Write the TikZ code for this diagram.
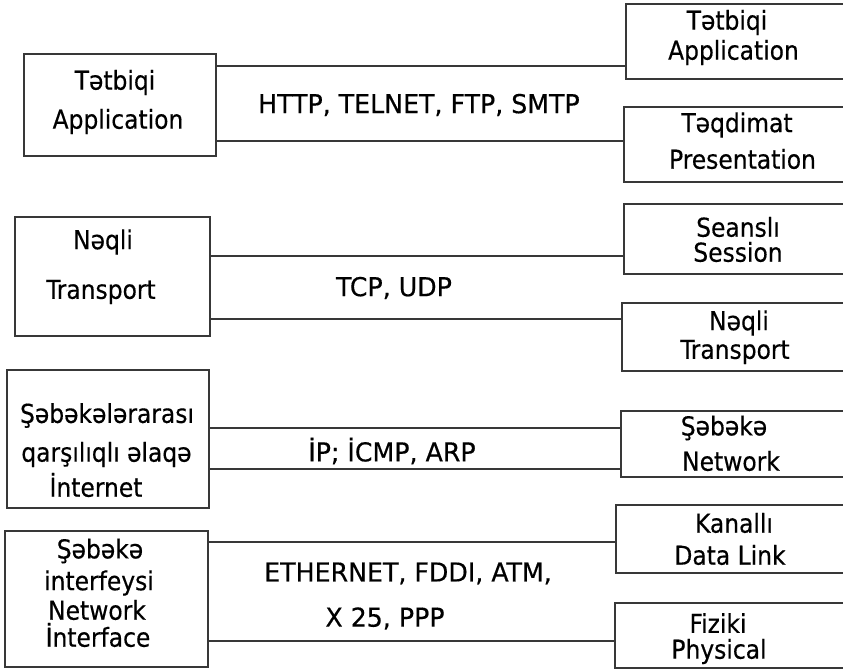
\documentclass[tikz,border=0pt]{standalone}
\usepackage{fontspec}
\setmainfont{DejaVu Sans Condensed}[FakeBold=0.4]
\usetikzlibrary{fit}

\tikzset{
  layerbox/.style={draw=black!78, line width=1.8pt, inner sep=0pt, rectangle},
  link/.style={draw=black!78, line width=1.8pt},
  lbl/.style={inner sep=0pt, anchor=center, font=\fontsize{26}{30}\selectfont},
  proto/.style={lbl, xscale=1.08, transform shape},
}

\begin{document}
\begin{tikzpicture}[x=1pt, y=-1pt]
  \useasboundingbox (0,0) rectangle (843,670);

  % TCP/IP layers (left column)
  \node[layerbox, fit={(24,54) (216,156)}]  (l1) {};
  \node[layerbox, fit={(15,217) (210,336)}] (l2) {};
  \node[layerbox, fit={(7,370) (209,508)}]  (l3) {};
  \node[layerbox, fit={(5,531) (208,667)}]  (l4) {};

  % OSI layers (right column, running off the page)
  \node[layerbox, fit={(626,4) (900,79)}]    (r1) {};
  \node[layerbox, fit={(624,107) (900,182)}] (r2) {};
  \node[layerbox, fit={(624,204) (900,274)}] (r3) {};
  \node[layerbox, fit={(622,303) (900,371)}] (r4) {};
  \node[layerbox, fit={(621,411) (900,477)}] (r5) {};
  \node[layerbox, fit={(616,505) (900,573)}] (r6) {};
  \node[layerbox, fit={(615,603) (900,668)}] (r7) {};

  % connectors
  \draw[link] (l1.east |- 0,66)  -- (r1.west |- 0,66);
  \draw[link] (l1.east |- 0,141) -- (r2.west |- 0,141);
  \draw[link] (l2.east |- 0,256) -- (r3.west |- 0,256);
  \draw[link] (l2.east |- 0,319) -- (r4.west |- 0,319);
  \draw[link] (l3.east |- 0,428) -- (r5.west |- 0,428);
  \draw[link] (l3.east |- 0,469) -- (r5.west |- 0,469);
  \draw[link] (l4.east |- 0,542) -- (r6.west |- 0,542);
  \draw[link] (l4.east |- 0,641) -- (r7.west |- 0,641);

  % left column labels
  \node[lbl] (l1a) at (115,82.5)  {Tətbiqi};
  \node[lbl] (l1b) at (118,121.5) {Application};
  \node[lbl] (l2a) at (103,242)   {Nəqli};
  \node[lbl] (l2b) at (101,292)   {Transport};
  \node[lbl] (l3a) at (107,415.5) {Şəbəkələrarası};
  \node[lbl] (l3b) at (106.5,454.5) {qarşılıqlı əlaqə};
  \node[lbl] (l3c) at (96,485)    {İnternet};
  \node[lbl] (l4a) at (100,551)   {Şəbəkə};
  \node[lbl] (l4b) at (99,583)    {interfeysi};
  \node[lbl] (l4c) at (97,610)    {Network};
  \node[lbl] (l4d) at (98,635)    {İnterface};

  % right column labels
  \node[lbl] (r1a) at (727,22.5)  {Tətbiqi};
  \node[lbl] (r1b) at (733.5,52.5) {Application};
  \node[lbl] (r2a) at (737,125)   {Təqdimat};
  \node[lbl] (r2b) at (742.5,159) {Presentation};
  \node[lbl] (r3a) at (738,227)   {Seanslı};
  \node[lbl] (r3b) at (738,252)   {Session};
  \node[lbl] (r4a) at (739,323)   {Nəqli};
  \node[lbl] (r4b) at (735,352)   {Transport};
  \node[lbl] (r5a) at (724,428)   {Şəbəkə};
  \node[lbl] (r5b) at (731,461)   {Network};
  \node[lbl] (r6a) at (734,523)   {Kanallı};
  \node[lbl] (r6b) at (730,555)   {Data Link};
  \node[lbl] (r7a) at (718,623)   {Fiziki};
  \node[lbl] (r7b) at (719,651.5) {Physical};

  % protocols
  \node[proto] (p1)  at (419,105)   {HTTP, TELNET, FTP, SMTP};
  \node[proto] (p2)  at (394,288)   {TCP, UDP};
  \node[proto] (p3)  at (392,451)   {İP; İCMP, ARP};
  \node[proto] (p4a) at (408,573.5) {ETHERNET, FDDI, ATM,};
  \node[proto] (p4b) at (385,618.5) {X 25, PPP};
\end{tikzpicture}
\end{document}
